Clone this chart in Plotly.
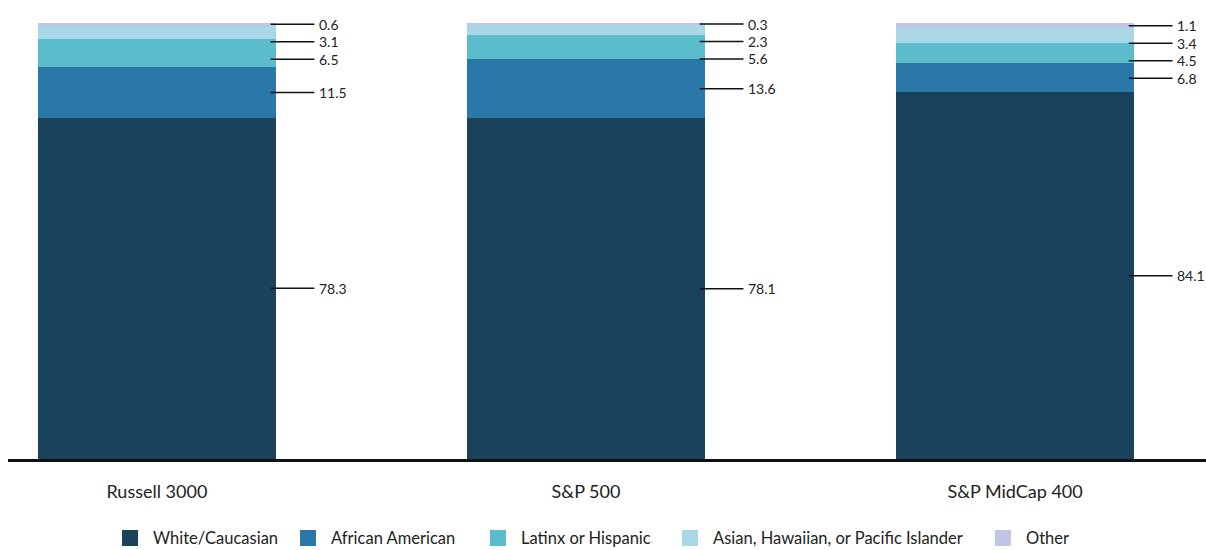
import plotly.graph_objects as go

categories = ["Russell 3000", "S&P 500", "S&P MidCap 400"]
series_names = ["White/Caucasian", "African American", "Latinx or Hispanic",
                "Asian, Hawaiian, or Pacific Islander", "Other"]
white = [78.3, 78.1, 84.1]
african_american = [11.5, 13.6, 6.8]
latinx = [6.5, 5.6, 4.5]
asian = [3.1, 2.3, 3.4]
other = [0.6, 0.3, 1.1]

series_values = [white, african_american, latinx, asian, other]
colors = ["#1b425d", "#2a78a8", "#5bbccb", "#a9d7e5", "#c2c6e6"]

FONT = "Lato, 'Open Sans', sans-serif"
BAR_W = 0.555
xpos = list(range(len(categories)))

W, H = 1206, 550
ML, MR, MT, MB = 8, 0, 23, 91
PW, PH = W - ML - MR, H - MT - MB

fig = go.Figure()
for name, vals, col in zip(series_names, series_values, colors):
    fig.add_trace(go.Bar(
        x=xpos, y=vals, name=name, marker=dict(color=col, line=dict(width=0)),
        width=BAR_W, hoverinfo="skip", showlegend=False))

# value labels with leader lines (spread apart when segments are thin)
GAP = 4.0
for ci, cx in enumerate(xpos):
    mids = []
    base = 0.0
    for vals in series_values:
        v = vals[ci]
        mids.append((base + v / 2.0, v))
        base += v
    placed = []
    prev = None
    for mid, v in reversed(mids):
        y = mid if prev is None else min(mid, prev - GAP)
        placed.append((y, v))
        prev = y
    for y, v in placed:
        fig.add_shape(type="line", xref="x", yref="y",
                      x0=cx + 0.265, x1=cx + 0.367, y0=y, y1=y,
                      line=dict(color="#111111", width=1.5))
        fig.add_annotation(x=cx + 0.372, y=y, xref="x", yref="y",
                           text=f"{v:.1f}", showarrow=False, xanchor="left",
                           yanchor="middle",
                           font=dict(family=FONT, size=14, color="#222222"))

# hand-laid legend (pixel layout of legend swatches)
legend_swatch_px = [122, 300, 490, 682, 995]
LEG_Y = 538
SW = 16
def px_x(p):
    return (p - ML) / PW
def px_y(p):
    return (H - MB - p) / PH
for name, col, sx in zip(series_names, colors, legend_swatch_px):
    fig.add_shape(type="rect", xref="paper", yref="paper",
                  x0=px_x(sx), x1=px_x(sx + SW), y0=px_y(LEG_Y + SW / 2), y1=px_y(LEG_Y - SW / 2),
                  fillcolor=col, line=dict(width=0))
    fig.add_annotation(x=px_x(sx + 29), y=px_y(LEG_Y), xref="paper", yref="paper",
                       text=name, showarrow=False, xanchor="left", yanchor="middle",
                       font=dict(family=FONT, size=16.5, color="#222222"))

fig.update_layout(
    barmode="stack",
    width=W, height=H,
    margin=dict(l=ML, r=MR, t=MT, b=MB),
    paper_bgcolor="white", plot_bgcolor="white",
    showlegend=False,
    font=dict(family=FONT, size=15, color="#222222"),
)
fig.update_xaxes(
    range=[-0.347, 2.445], tickvals=xpos, ticktext=categories,
    showgrid=False, zeroline=False, showline=True, linecolor="#111111", linewidth=2.5,
    ticks="", ticklabelstandoff=15,
    tickfont=dict(family=FONT, size=18, color="#222222"), fixedrange=True)
fig.update_yaxes(range=[0, 100], showgrid=False, zeroline=False, showline=False,
                 showticklabels=False, ticks="", fixedrange=True)

fig.write_html("out.html", config={"displayModeBar": False},
               post_script="document.body.style.margin='0';document.body.style.overflow='hidden';")
